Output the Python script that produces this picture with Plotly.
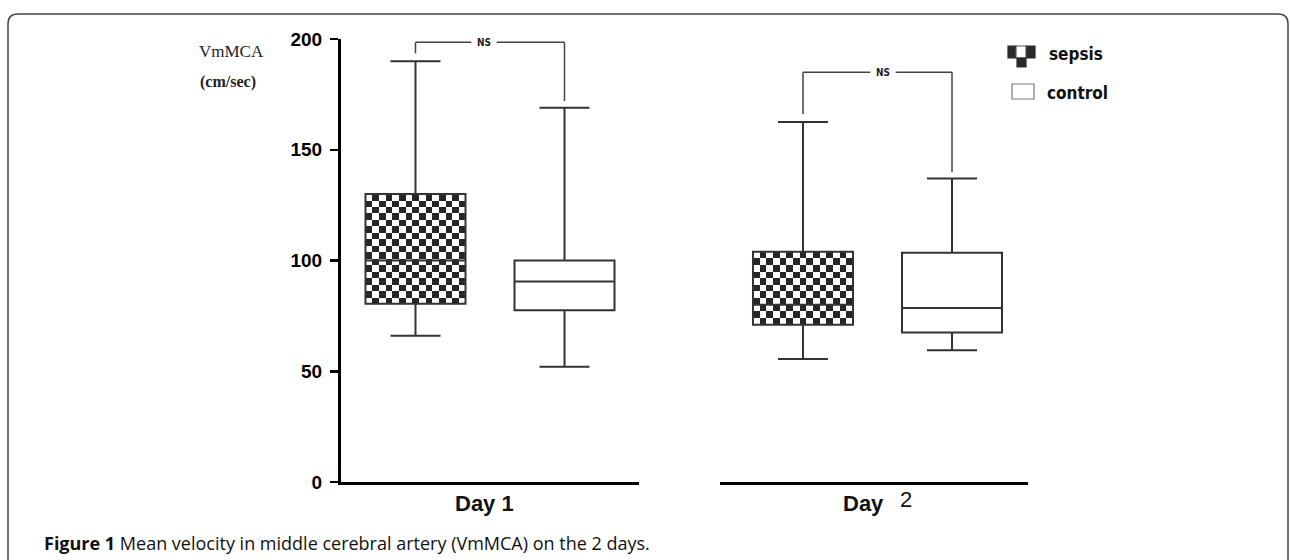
import plotly.graph_objects as go

# ---------------- data ----------------
days = ["Day 1", "Day 2"]
groups = ["sepsis", "control"]
group_pos = [1, 2]

# box statistics, per day: [sepsis, control]
q1_day1 = [80.5, 77.5]
median_day1 = [100, 90.5]
q3_day1 = [130, 100]
lower_day1 = [66, 52]
upper_day1 = [190, 169]

q1_day2 = [71, 67.5]
median_day2 = [80, 78.5]
q3_day2 = [104, 103.5]
lower_day2 = [55.5, 59.5]
upper_day2 = [162.5, 137]

ns_bracket_y = [198.5, 185]
ns_label_x = [1.46, 1.537]
ns_labels = ["NS", "NS"]

y_ticks = [0, 50, 100, 150, 200]

# ---------------- geometry / style ----------------
W, H = 1290, 560
T, B = 39, 78
PLOT_H = H - T - B
Y_MAX = 200
Y_PX = PLOT_H / Y_MAX
X_PX = 149.0           # px per x unit
BOX_W = 100 / X_PX     # box width in x units
CELL = 6.6             # checker cell size px

LINE_C = "#333333"
SANS = "Liberation Sans, Arial, sans-serif"
NARROW = "DejaVu Sans Condensed, Liberation Sans Narrow, Arial Narrow, sans-serif"
SERIF = "Liberation Serif, Times New Roman, serif"


def px_x(px):
    return px / W


def px_y(py):
    return (H - B - py) / PLOT_H


def label(x, y, text, font, xanchor="center"):
    return dict(xref="paper", yref="paper", x=px_x(x), y=px_y(y), text=text,
                showarrow=False, xanchor=xanchor, yanchor="middle", font=font)


stats = [
    ("x", q1_day1, median_day1, q3_day1, lower_day1, upper_day1),
    ("x2", q1_day2, median_day2, q3_day2, lower_day2, upper_day2),
]

fig = go.Figure()

for xa, q1, med, q3, lo, up in stats:
    for gi, g in enumerate(groups):
        pos = group_pos[gi]
        if g == "sepsis":
            nx = 15
            dx = BOX_W / nx
            h_px = (q3[gi] - q1[gi]) * Y_PX
            ny = max(1, round(h_px / CELL))
            dy = (q3[gi] - q1[gi]) / ny
            z = [[(i + j) % 2 for j in range(nx)] for i in range(ny)]
            fig.add_trace(go.Heatmap(
                z=z, x0=pos - BOX_W / 2 + dx / 2, dx=dx,
                y0=q1[gi] + dy / 2, dy=dy,
                colorscale=[[0, "#ffffff"], [1, "#262626"]],
                zmin=0, zmax=1, showscale=False, hoverinfo="skip",
                xaxis=xa, yaxis="y",
            ))
        fig.add_trace(go.Box(
            x=[pos], q1=[q1[gi]], median=[med[gi]], q3=[q3[gi]],
            lowerfence=[lo[gi]], upperfence=[up[gi]],
            orientation="v", width=BOX_W, whiskerwidth=0.5,
            fillcolor="rgba(0,0,0,0)",
            line=dict(color=LINE_C, width=2),
            boxpoints=False, showlegend=False, name=g,
            xaxis=xa, yaxis="y",
        ))

# ---------------- NS brackets ----------------
shapes = []
annotations = []
uppers = [upper_day1, upper_day2]
for k, xa in enumerate(["x", "x2"]):
    yb = ns_bracket_y[k]
    cx = ns_label_x[k]
    gap = 0.085
    segs = [
        (group_pos[0], yb, group_pos[0], uppers[k][0] + 3.5),
        (group_pos[0], yb, cx - gap, yb),
        (cx + gap, yb, group_pos[1], yb),
        (group_pos[1], yb, group_pos[1], uppers[k][1] + 3),
    ]
    for x0, y0, x1, y1 in segs:
        shapes.append(dict(type="line", xref=xa, yref="y", x0=x0, y0=y0, x1=x1, y1=y1,
                           line=dict(color="#444444", width=1.5)))
    annotations.append(dict(xref=xa, yref="y", x=cx, y=yb, text="<b>" + ns_labels[k] + "</b>",
                            showarrow=False, xanchor="center", yanchor="middle",
                            font=dict(family=NARROW, size=10, color="#222")))

# ---------------- frame ----------------
fl, fr, ft, fb, rr = 8, 1288, 14, 600, 10
rx, ry = rr / W, rr / PLOT_H
path = (f"M {px_x(fl)},{px_y(fb)} L {px_x(fl)},{px_y(ft) - ry} "
        f"Q {px_x(fl)},{px_y(ft)} {px_x(fl) + rx},{px_y(ft)} "
        f"L {px_x(fr) - rx},{px_y(ft)} Q {px_x(fr)},{px_y(ft)} {px_x(fr)},{px_y(ft) - ry} "
        f"L {px_x(fr)},{px_y(fb)}")
shapes.append(dict(type="path", xref="paper", yref="paper", path=path,
                   line=dict(color="#444444", width=1.5)))

# ---------------- legend (manual) ----------------
dark = "#2a2a2a"
legend_rects = [
    (1008, 46, 1016, 58, dark, dark),
    (1026, 46, 1035, 58, dark, dark),
    (1016, 46, 1026, 58, "#ffffff", "#555555"),
    (1017, 58, 1026, 67, dark, dark),
    (1012, 84, 1034, 99, "#ffffff", "#777777"),
]
for x0, y0, x1, y1, fc, lc in legend_rects:
    shapes.append(dict(type="rect", xref="paper", yref="paper",
                       x0=px_x(x0), x1=px_x(x1), y0=px_y(y1), y1=px_y(y0),
                       fillcolor=fc, line=dict(color=lc, width=1.2)))
leg_font = dict(family=NARROW, size=17, color="#111", weight="bold")
annotations.append(label(1047, 54, groups[0], leg_font, xanchor="left"))
annotations.append(label(1045, 93, groups[1], leg_font, xanchor="left"))

# ---------------- axis titles / labels ----------------
annotations += [
    label(231, 51, "VmMCA", dict(family=SERIF, size=17, color="#222")),
    label(228, 82, "<b>(cm/sec)</b>", dict(family=SERIF, size=16, color="#222")),
    label(484, 503, "<b>" + days[0] + "</b>", dict(family=SANS, size=22, color="#111")),
    label(863, 503, "<b>" + days[1].split()[0] + "</b>", dict(family=SANS, size=22, color="#111")),
    label(906, 499, days[1].split()[1], dict(family=SANS, size=22, color="#111")),
    label(42, 543, "<b>Figure 1</b> Mean velocity in middle cerebral artery (VmMCA) on the 2 days.",
          dict(family="Open Sans, sans-serif", size=18, color="#111"), xanchor="left"),
]

axis_common = dict(showgrid=False, zeroline=False, showline=True, linecolor="black",
                   linewidth=3, showticklabels=False, ticks="", fixedrange=True)

fig.update_layout(
    width=W, height=H,
    margin=dict(l=0, r=0, t=T, b=B, autoexpand=False),
    paper_bgcolor="white", plot_bgcolor="white",
    showlegend=False,
    xaxis=dict(domain=[px_x(341), px_x(639)], range=[0.5, 2.5], anchor="y", **axis_common),
    xaxis2=dict(domain=[px_x(720), px_x(1028)], range=[0.443, 2.51], anchor="y", **axis_common),
    yaxis=dict(range=[0, Y_MAX], domain=[0, 1], anchor="x", showgrid=False, zeroline=False,
               showline=True, linecolor="black", linewidth=3,
               tickvals=y_ticks, ticktext=[str(v) for v in y_ticks],
               ticks="outside", ticklen=8, tickwidth=2.5, tickcolor="black",
               ticklabelstandoff=4, fixedrange=True,
               tickfont=dict(family=SANS, size=19, color="black", weight="bold")),
    shapes=shapes,
    annotations=annotations,
)

fig.write_html("out.html", config={"displayModeBar": False, "staticPlot": True},
               post_script="document.body.style.margin='0';document.body.style.overflow='hidden';")
